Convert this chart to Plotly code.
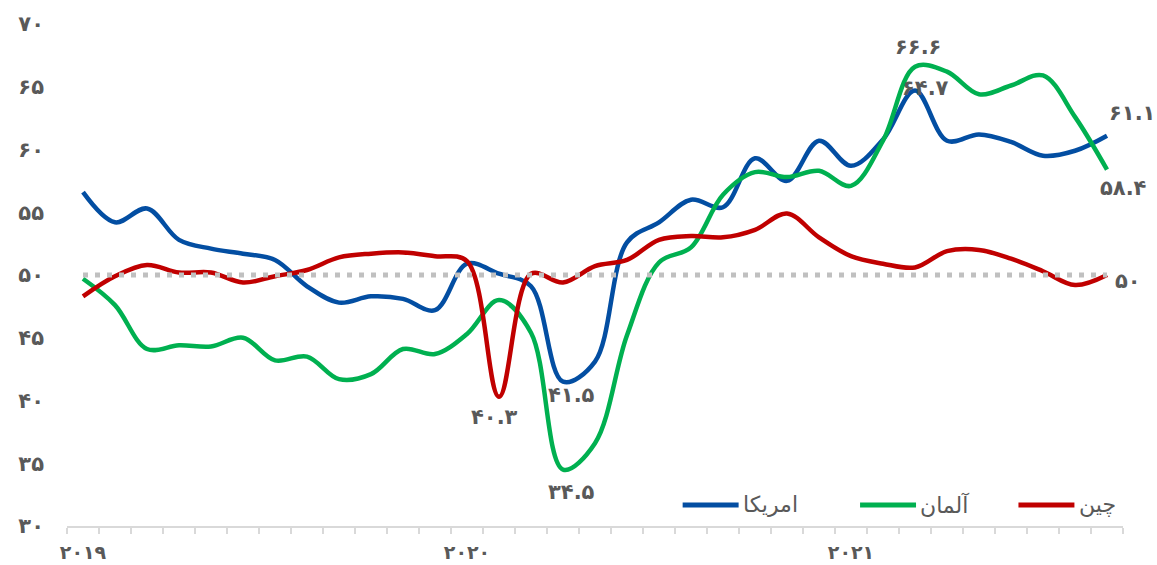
import plotly.graph_objects as go

# Monthly manufacturing PMI, Jan 2019 - Sep 2021
months = [f"{y}-{m:02d}" for y in (2019, 2020, 2021) for m in range(1, 13)][:33]

usa = [56.6, 54.2, 55.3, 52.8, 52.1, 51.7, 51.2, 49.1, 47.8, 48.3, 48.1, 47.2,
       50.9, 50.1, 49.1, 41.5, 43.1, 52.6, 54.2, 56.0, 55.4, 59.3, 57.5, 60.7,
       58.7, 60.8, 64.7, 60.7, 61.2, 60.6, 59.5, 59.9, 61.1]
germany = [49.7, 47.6, 44.1, 44.4, 44.3, 45.0, 43.2, 43.5, 41.7, 42.1, 44.1, 43.7,
           45.3, 48.0, 45.4, 34.5, 36.6, 45.2, 51.0, 52.2, 56.4, 58.2, 57.8, 58.3,
           57.1, 60.7, 66.6, 66.2, 64.4, 65.1, 65.9, 62.6, 58.4]
china = [48.3, 49.9, 50.8, 50.2, 50.2, 49.4, 49.9, 50.4, 51.4, 51.7, 51.8, 51.5,
         51.1, 40.3, 50.1, 49.4, 50.7, 51.2, 52.8, 53.1, 53.0, 53.6, 54.9, 53.0,
         51.5, 50.9, 50.6, 51.9, 52.0, 51.3, 50.3, 49.2, 50.0]
threshold = 50

series_names = ["امریکا", "آلمان", "چین"]
series_colors = ["#034EA2", "#00B050", "#C00000"]

y_ticks = [30, 35, 40, 45, 50, 55, 60, 65, 70]
year_ticks = [0, 12, 24]
year_labels = ["2019", "2020", "2021"]

# labelled points: (series, month index, yshift, xshift)
callouts = [
    (china, 13, -20, -5),
    (usa, 15, -13, 8),
    (germany, 15, -22, 8),
    (germany, 26, 20, 3),
    (usa, 26, 3, 10),
    (usa, 32, 23, 25),
    (germany, 32, -18, 16),
    (china, 32, -6, 21),
]

FA_DIGITS = str.maketrans("0123456789", "۰۱۲۳۴۵۶۷۸۹")


def fa(v):
    s = f"{v:g}" if isinstance(v, (int, float)) else str(v)
    return s.translate(FA_DIGITS)


x = list(range(len(months)))
GRAY = "#595959"
FONT = "DejaVu Sans"

fig = go.Figure()
for name, vals, col in zip(series_names, [usa, germany, china], series_colors):
    fig.add_trace(go.Scatter(
        x=x, y=vals, name=name, mode="lines",
        line=dict(color=col, width=4.5, shape="spline", smoothing=1),
        hoverinfo="skip", showlegend=False,
    ))

# 50-point expansion/contraction line
fig.add_trace(go.Scatter(
    x=x, y=[threshold] * len(x), mode="lines", showlegend=False,
    line=dict(color="#C0C0C0", width=5, dash="5px,7px"), hoverinfo="skip",
))

for vals, i, ys, xs in callouts:
    fig.add_annotation(
        x=i, y=vals[i], text=f"<b>{fa(vals[i])}</b>", showarrow=False,
        yshift=ys, xshift=xs, font=dict(family=FONT, size=21, color=GRAY),
    )

# legend: line sample followed by series name, laid out left to right
legend_left = [0.583, 0.751, 0.901]
legend_y = 0.042
for name, col, lx in zip(series_names, series_colors, legend_left):
    fig.add_shape(type="line", xref="paper", yref="paper",
                  x0=lx, x1=lx + 0.053, y0=legend_y, y1=legend_y,
                  line=dict(color=col, width=5))
    fig.add_annotation(xref="paper", yref="paper", x=lx + 0.055, y=legend_y,
                       xanchor="left", yanchor="middle", showarrow=False,
                       text=name, font=dict(family=FONT, size=22, color=GRAY))

fig.update_layout(
    width=1157, height=565,
    margin=dict(l=67, r=34, t=24, b=39),
    paper_bgcolor="white", plot_bgcolor="white",
    showlegend=False,
)
fig.update_xaxes(
    range=[-0.5, len(x) - 0.5], automargin=False,
    tickmode="array", tickvals=year_ticks,
    ticktext=[f"<b>{fa(t)}</b>" for t in year_labels],
    ticks="", ticklabelstandoff=8,
    tickfont=dict(family=FONT, size=19, color=GRAY),
    showline=True, linecolor="#D9D9D9", linewidth=2,
    showgrid=False, zeroline=False,
    minor=dict(tick0=-0.5, dtick=1, ticks="outside", ticklen=6,
               tickcolor="#D9D9D9", tickwidth=2, showgrid=False),
)
fig.update_yaxes(
    range=[30, 70], tickmode="array", tickvals=y_ticks, automargin=False,
    ticktext=[f"<b>{fa(t)}</b>" for t in y_ticks],
    ticks="", ticklabelstandoff=22,
    tickfont=dict(family=FONT, size=21, color=GRAY),
    showgrid=False, zeroline=False, showline=False,
)

fig.write_html("out.html")
